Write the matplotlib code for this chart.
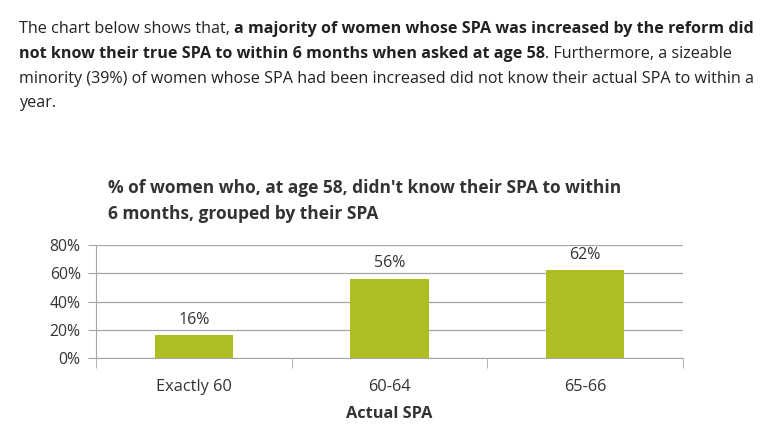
import matplotlib
matplotlib.use("Agg")
import matplotlib.pyplot as plt
import numpy as np

# data
categories = ["Exactly 60", "60-64", "65-66"]
values = [16, 56, 62]
y_ticks = [0, 20, 40, 60, 80]

header_lines = [
    [("The chart below shows that, ", "normal"),
     ("a majority of women whose SPA was increased by the reform did", "bold")],
    [("not know their true SPA to within 6 months when asked at age 58", "bold"),
     (". Furthermore, a sizeable", "normal")],
    [("minority (39%) of women whose SPA had been increased did not know their actual SPA to within a", "normal")],
    [("year.", "normal")],
]
chart_title = "% of women who, at age 58, didn't know their SPA to within\n6 months, grouped by their SPA"

W, H = 772, 437
fig = plt.figure(figsize=(W / 100, H / 100), dpi=100)
plt.rcParams['font.family'] = ['Open Sans', 'DejaVu Sans']
text_col = '#333333'
bar_col = '#AEBD22'
grid_col = '#A6A6A6'

# ===== header paragraph, mixed bold/regular =====
renderer = fig.canvas.get_renderer()
line_y = [29, 54, 79, 103]
for segs, yy in zip(header_lines, line_y):
    x = 19
    for txt, wt in segs:
        t = fig.text(x / W, 1 - yy / H, txt, fontsize=11.6, fontweight=wt,
                     color='#222222', va='center', ha='left')
        bb = t.get_window_extent(renderer=renderer)
        x += bb.width

# ===== chart title =====
fig.text(108 / W, 1 - 179 / H, chart_title, fontsize=12.5, fontweight='bold',
         color=text_col, va='top', ha='left', linespacing=1.55)

# ===== bar chart =====
ax = fig.add_axes([96 / W, 79 / H, (683 - 96) / W, (358 - 245) / H])
x = np.arange(len(categories))
bars = ax.bar(x, values, width=0.4, color=bar_col, zorder=3)
for xi, v in zip(x, values):
    ax.text(xi, v + 5.5, f"{v}%", ha='center', va='bottom', fontsize=11.5, color=text_col)

ax.set_xlim(-0.5, len(categories) - 0.5)
ax.set_ylim(0, 80)
ax.set_yticks(y_ticks)
ax.set_yticklabels([f"{t}%" for t in y_ticks], fontsize=11.3, color=text_col)
ax.yaxis.grid(True, color=grid_col, linewidth=0.9, zorder=0)
ax.set_xticks(x)
ax.set_xticklabels(categories, fontsize=11.8, color=text_col)
ax.tick_params(axis='x', length=0, pad=15)
ax.tick_params(axis='y', length=6, color=grid_col, pad=5)
# category boundary ticks
ax.set_xticks(np.arange(len(categories) + 1) - 0.5, minor=True)
ax.tick_params(axis='x', which='minor', length=7, color=grid_col)
for s in ['top', 'right']:
    ax.spines[s].set_visible(False)
ax.spines['left'].set_color(grid_col)
ax.spines['bottom'].set_color(grid_col)
ax.set_xlabel('Actual SPA', fontsize=11.8, fontweight='bold', color=text_col, labelpad=8)

fig.savefig('out.png', dpi=100)
